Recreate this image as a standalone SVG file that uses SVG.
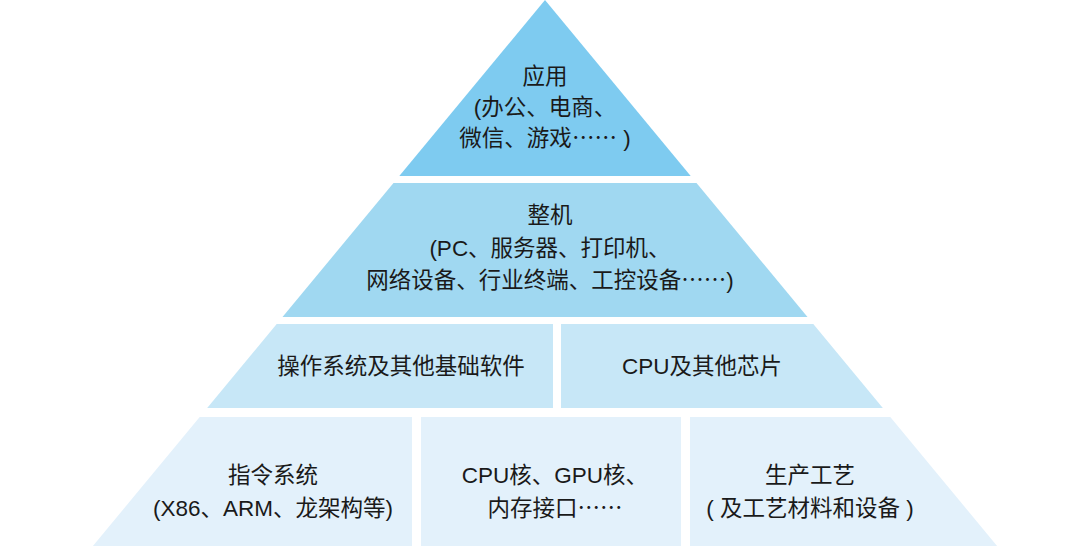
<svg xmlns="http://www.w3.org/2000/svg" width="1080" height="546" viewBox="0 0 1080 546">
<style>
.t{font-family:"Liberation Sans","Noto Sans CJK SC",sans-serif;font-size:22.5px;fill:#1a1a1a;text-anchor:middle}
.e{font-family:"Noto Sans CJK SC",sans-serif}
.l1{fill:#7ECBF0}.l2{fill:#A0D8F1}.l3{fill:#C7E7F7}.l4{fill:#E3F1FB}
</style>
<rect width="1080" height="546" fill="#ffffff"/>
<g id="app">
<polygon class="l1" points="545,0 399.3,176 690.7,176"/>
<text class="t" x="545" y="84">应用</text>
<text class="t" x="545" y="115">(办公、电商、</text>
<text class="t" x="545" y="146">微信、游戏<tspan class="e">……</tspan> )</text>
</g>
<g id="machine">
<polygon class="l2" points="393.5,183 696.5,183 807.5,317 282.5,317"/>
<text class="t" x="550" y="223">整机</text>
<text class="t" x="550" y="256">(PC、服务器、打印机、</text>
<text class="t" x="550" y="288">网络设备、行业终端、工控设备<tspan class="e">……</tspan>)</text>
</g>
<g id="os">
<polygon class="l3" points="276.7,324 553,324 553,408 207.2,408"/>
<text class="t" x="401" y="374">操作系统及其他基础软件</text>
</g>
<g id="chip">
<polygon class="l3" points="561,324 813.3,324 882.8,408 561,408"/>
<text class="t" x="702" y="374">CPU及其他芯片</text>
</g>
<g id="isa">
<polygon class="l4" points="199.7,417 412,417 412,546 92.9,546"/>
<text class="t" x="273" y="483">指令系统</text>
<text class="t" x="273" y="516">(X86、ARM、龙架构等)</text>
</g>
<g id="ip">
<polygon class="l4" points="421,417 681,417 681,546 421,546"/>
<text class="t" x="555" y="483">CPU核、GPU核、</text>
<text class="t" x="555" y="516">内存接口<tspan class="e">……</tspan></text>
</g>
<g id="process">
<polygon class="l4" points="690,417 890.3,417 997.1,546 690,546"/>
<text class="t" x="810" y="483">生产工艺</text>
<text class="t" x="810" y="516">( 及工艺材料和设备 )</text>
</g>
<g id="connectors"></g>
</svg>
